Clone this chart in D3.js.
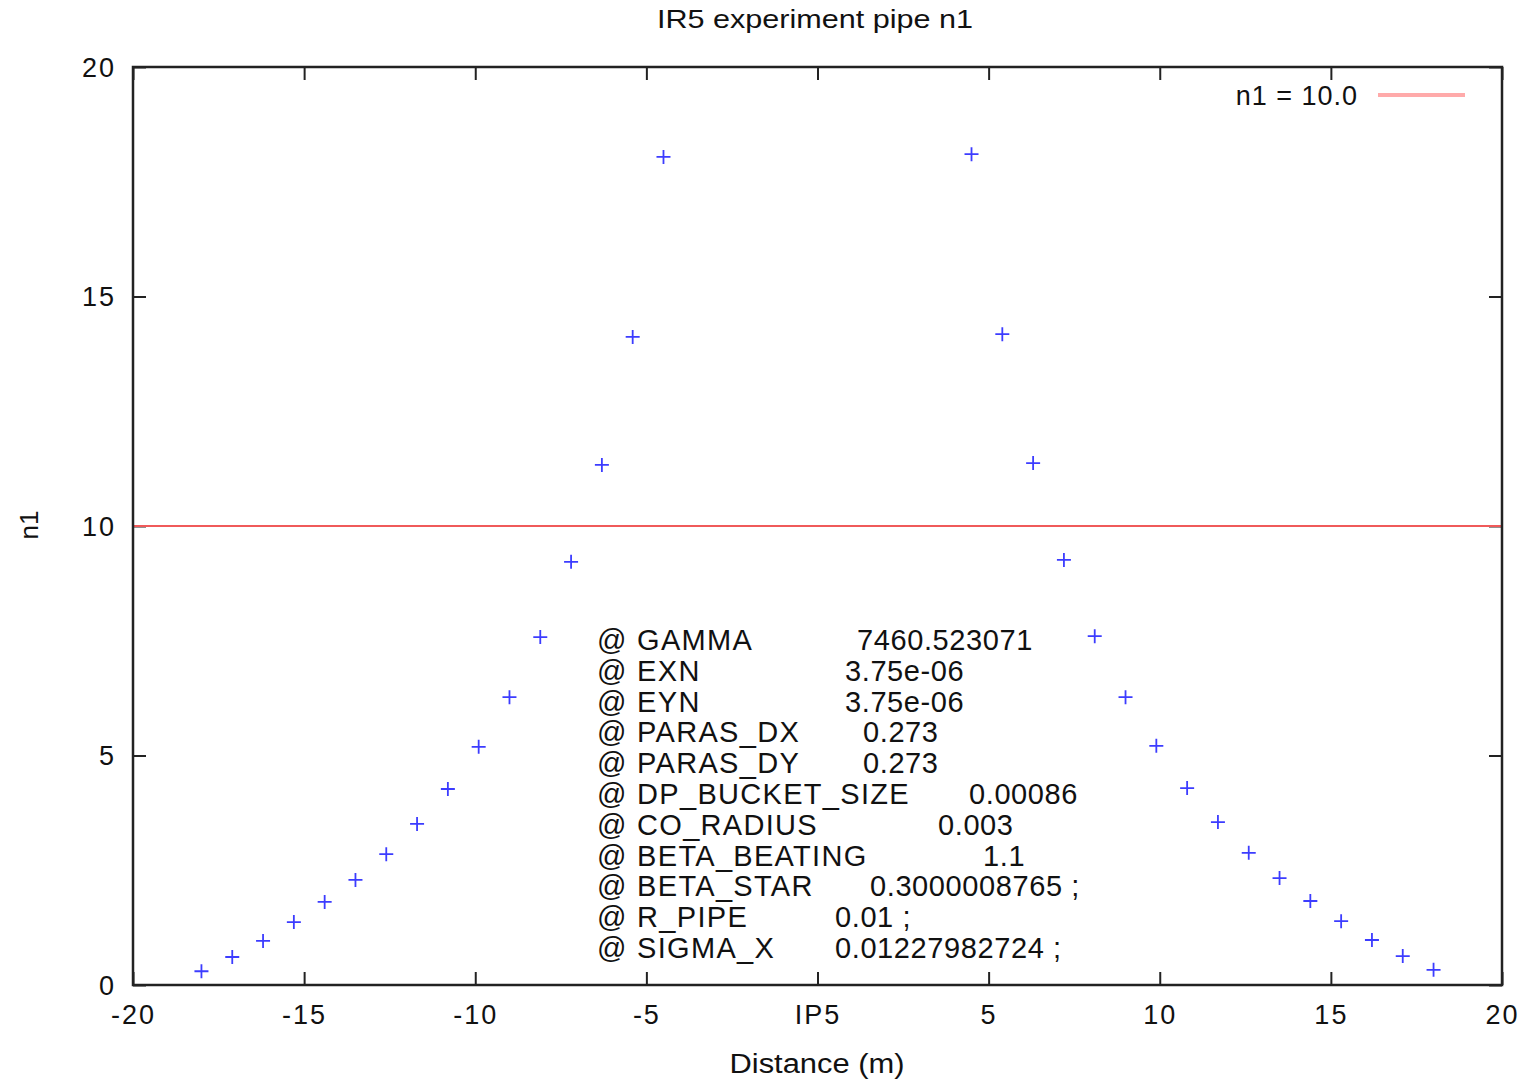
<!DOCTYPE html>
<html>
<head>
<meta charset="utf-8">
<script src="https://cdn.jsdelivr.net/npm/d3@7"></script>
<style>
    body { margin: 0; background: #fff; }
    text { font-family: "Liberation Sans", Arial, sans-serif; fill: #111; }
</style>
</head>
<body>
<svg id="chart" width="1534" height="1081"></svg>
<script>
    // n1 values, left and right of IP5
    let distLeft = [-18.0, -17.1, -16.2, -15.3, -14.4, -13.5, -12.6, -11.7, -10.8, -9.9, -9.0, -8.1, -7.2, -6.3, -5.4, -4.5];
    let n1Left = [0.30, 0.61, 0.96, 1.37, 1.81, 2.29, 2.85, 3.51, 4.27, 5.19, 6.27, 7.58, 9.22, 11.33, 14.12, 18.04];
    let distRight = [4.5, 5.4, 6.3, 7.2, 8.1, 9.0, 9.9, 10.8, 11.7, 12.6, 13.5, 14.4, 15.3, 16.2, 17.1, 18.0];
    let n1Right = [18.10, 14.18, 11.37, 9.26, 7.60, 6.27, 5.21, 4.29, 3.55, 2.88, 2.33, 1.83, 1.39, 0.98, 0.63, 0.33];

    let n1Limit = 10.0;

    let xTicks = [-20, -15, -10, -5, 0, 5, 10, 15, 20];
    let xTickLabels = ["-20", "-15", "-10", "-5", "IP5", "5", "10", "15", "20"];
    let yTicks = [0, 5, 10, 15, 20];

    let paramNames = ["@ GAMMA", "@ EXN", "@ EYN", "@ PARAS_DX", "@ PARAS_DY", "@ DP_BUCKET_SIZE",
        "@ CO_RADIUS", "@ BETA_BEATING", "@ BETA_STAR", "@ R_PIPE", "@ SIGMA_X"];
    let paramValues = ["7460.523071", "3.75e-06", "3.75e-06", "0.273", "0.273", "0.00086",
        "0.003", "1.1", "0.3000008765 ;", "0.01 ;", "0.01227982724 ;"];
    // x where each value column starts (tab stops in the original label)
    let paramValueX = [857, 845, 845, 863, 863, 969, 938, 983, 870, 835, 835];

    let margin = {top: 67, right: 32, bottom: 96, left: 133};
    let W = 1534, H = 1081;
    let w = W - margin.left - margin.right, h = H - margin.top - margin.bottom;

    let svg = d3.select("#chart");
    let g = svg.append("g").attr("transform", "translate(" + margin.left + "," + margin.top + ")");

    let x = d3.scaleLinear().domain([-20, 20]).range([0, w]);
    let y = d3.scaleLinear().domain([0, 20]).range([h, 0]);

    let tickLen = 13;

    // axes: inward ticks, mirrored on top and right
    let axes = [
        {ax: d3.axisBottom(x).tickValues(xTicks).tickSize(-tickLen).tickFormat((d, i) => xTickLabels[i]), t: "translate(0," + h + ")"},
        {ax: d3.axisTop(x).tickValues(xTicks).tickSize(-tickLen).tickFormat(""), t: "translate(0,0)"},
        {ax: d3.axisLeft(y).tickValues(yTicks).tickSize(-tickLen), t: "translate(0,0)"},
        {ax: d3.axisRight(y).tickValues(yTicks).tickSize(-tickLen).tickFormat(""), t: "translate(" + w + ",0)"}
    ];
    axes.forEach(function (a, k) {
        let ag = g.append("g").attr("transform", a.t).call(a.ax);
        ag.select(".domain").remove();
        ag.selectAll(".tick line").attr("stroke", "#222").attr("stroke-width", 2);
        ag.selectAll(".tick text")
            .style("font-family", "'Liberation Sans', Arial, sans-serif")
            .style("font-size", "27px")
            .style("letter-spacing", "2px")
            .attr("fill", "#111");
        if (k === 0) ag.selectAll(".tick text").attr("y", 20).attr("dy", "0.71em");
        if (k === 2) ag.selectAll(".tick text").attr("x", -17).attr("dy", "0.35em");
    });

    // limit line
    g.append("line")
        .attr("x1", 0).attr("x2", w)
        .attr("y1", y(n1Limit)).attr("y2", y(n1Limit))
        .attr("stroke", "#f05a5a").attr("stroke-width", 2);

    // points as '+'
    let pts = distLeft.map((d, i) => ({x: d, y: n1Left[i]}))
        .concat(distRight.map((d, i) => ({x: d, y: n1Right[i]})));
    let arm = 7;
    let marks = g.append("g").attr("stroke", "#3c3cff").attr("stroke-width", 1.8);
    marks.selectAll("path")
        .data(pts)
        .enter()
        .append("path")
        .attr("d", d => "M" + (x(d.x) - arm) + "," + y(d.y) + "h" + (2 * arm) +
            "M" + x(d.x) + "," + (y(d.y) - arm) + "v" + (2 * arm));

    // frame
    g.append("rect")
        .attr("width", w).attr("height", h)
        .attr("fill", "none").attr("stroke", "#222").attr("stroke-width", 2.5);

    // legend
    svg.append("text")
        .attr("x", 1358).attr("y", 105)
        .attr("text-anchor", "end")
        .style("font-size", "27px").style("letter-spacing", "1px")
        .text("n1 = 10.0");
    svg.append("line")
        .attr("x1", 1378).attr("x2", 1465).attr("y1", 95).attr("y2", 95)
        .attr("stroke", "#ffaaaa").attr("stroke-width", 4);

    // parameter block
    let rowH = 30.8, firstBase = 650;
    paramNames.forEach(function (name, i) {
        svg.append("text")
            .attr("x", 597).attr("y", firstBase + i * rowH)
            .style("font-size", "29px").style("letter-spacing", "1.3px")
            .text(name);
        svg.append("text")
            .attr("x", paramValueX[i]).attr("y", firstBase + i * rowH)
            .style("font-size", "29px").style("letter-spacing", "0.6px")
            .text(paramValues[i]);
    });

    // title and axis labels
    svg.append("text")
        .attr("x", 815).attr("y", 28)
        .attr("text-anchor", "middle")
        .attr("textLength", 316).attr("lengthAdjust", "spacingAndGlyphs")
        .style("font-size", "25px")
        .text("IR5 experiment pipe n1");
    svg.append("text")
        .attr("x", 817).attr("y", 1073)
        .attr("text-anchor", "middle")
        .attr("textLength", 175).attr("lengthAdjust", "spacingAndGlyphs")
        .style("font-size", "27px")
        .text("Distance (m)");
    svg.append("text")
        .attr("transform", "translate(38,525) rotate(-90)")
        .attr("text-anchor", "middle")
        .style("font-size", "26px")
        .text("n1");
</script>
</body>
</html>
